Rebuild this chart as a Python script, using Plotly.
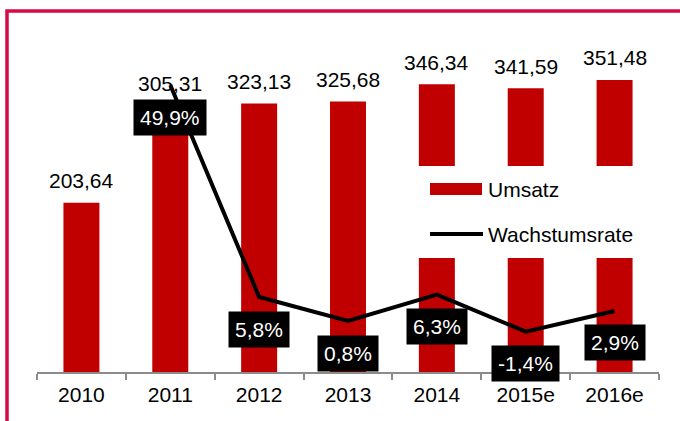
import plotly.graph_objects as go

years = ["2010", "2011", "2012", "2013", "2014", "2015e", "2016e"]
umsatz = [203.64, 305.31, 323.13, 325.68, 346.34, 341.59, 351.48]
umsatz_labels = ["203,64", "305,31", "323,13", "325,68", "346,34", "341,59", "351,48"]
growth_years = ["2011", "2012", "2013", "2014", "2015e", "2016e"]
growth = [49.9, 5.8, 0.8, 6.3, -1.4, 2.9]
growth_labels = ["49,9%", "5,8%", "0,8%", "6,3%", "-1,4%", "2,9%"]

RED = "#C00000"
FRAME = "#D50A47"
FONT = "Arial, Liberation Sans, sans-serif"

W, H = 680, 421
ML, MR, MT, MB = 37, 21, 23, 49
PW = W - ML - MR
PH = H - MT - MB

def px_x(px):
    return (px - ML) / PW

def px_y(py):
    return (H - MB - py) / PH

xb = [years.index(y) for y in years]
xg = [years.index(y) for y in growth_years]

fig = go.Figure()
fig.add_trace(go.Bar(x=xb, y=umsatz, marker=dict(color=RED, line=dict(width=0)),
                     name="Umsatz", showlegend=False, yaxis="y", hoverinfo="skip"))
fig.add_trace(go.Scatter(x=xg, y=growth, mode="lines",
                         line=dict(color="black", width=4), name="Wachstumsrate",
                         showlegend=False, yaxis="y2", hoverinfo="skip"))

annotations = []
for yr, xv, v, lab in zip(years, xb, umsatz, umsatz_labels):
    shift = 35 if yr == "2011" else 22
    annotations.append(dict(x=xv, y=v, xref="x", yref="y", text=lab, showarrow=False,
                            yanchor="middle", yshift=shift,
                            font=dict(family=FONT, size=21, color="black")))
for xv, v, lab in zip(xg, growth, growth_labels):
    annotations.append(dict(x=xv, y=v, xref="x", yref="y2", text=lab, showarrow=False,
                            yanchor="middle", yshift=-32, bgcolor="black", borderpad=6,
                            font=dict(family=FONT, size=21, color="white")))

# custom legend
annotations.append(dict(x=px_x(486), y=px_y(189), xref="paper", yref="paper", text="Umsatz",
                        showarrow=False, xanchor="left", yanchor="middle",
                        font=dict(family=FONT, size=21, color="black")))
annotations.append(dict(x=px_x(486), y=px_y(234), xref="paper", yref="paper", text="Wachstumsrate",
                        showarrow=False, xanchor="left", yanchor="middle",
                        font=dict(family=FONT, size=21, color="black")))

shapes = [
    dict(type="rect", xref="paper", yref="paper", x0=px_x(372), x1=px_x(656),
         y0=px_y(258), y1=px_y(166), fillcolor="white", line=dict(width=0), layer="above"),
    dict(type="rect", xref="paper", yref="paper", x0=px_x(430), x1=px_x(482),
         y0=px_y(195), y1=px_y(183), fillcolor=RED, line=dict(width=0), layer="above"),
    dict(type="line", xref="paper", yref="paper", x0=px_x(430), x1=px_x(483),
         y0=px_y(234), y1=px_y(234), line=dict(color="black", width=4), layer="above"),
    dict(type="rect", xref="paper", yref="paper", x0=px_x(7), x1=px_x(700),
         y0=px_y(440), y1=px_y(11), fillcolor="rgba(0,0,0,0)",
         line=dict(color=FRAME, width=3.5), layer="above"),
]

fig.update_layout(
    width=W, height=H,
    margin=dict(l=ML, r=MR, t=MT, b=MB, pad=0),
    paper_bgcolor="white", plot_bgcolor="white",
    bargap=0.595,
    showlegend=False,
    hovermode=False,
    font=dict(family=FONT, size=21, color="black"),
    xaxis=dict(range=[-0.5, len(years) - 0.5], showline=True, linecolor="#8C8C8C", linewidth=2,
               tickmode="array", tickvals=xb, ticktext=years, ticks="", tickangle=0,
               ticklabelstandoff=3,
               minor=dict(tick0=-0.5, dtick=1, ticks="outside", ticklen=6, tickwidth=2,
                          tickcolor="#8C8C8C", showgrid=False),
               showgrid=False, zeroline=False,
               tickfont=dict(family=FONT, size=21, color="black")),
    yaxis=dict(range=[0, 420], visible=False, showgrid=False, zeroline=False),
    yaxis2=dict(range=[-9.8, 62.8], overlaying="y", visible=False, showgrid=False,
                zeroline=False),
    annotations=annotations,
    shapes=shapes,
)

fig.write_html("out.html", config={"displayModeBar": False},
               post_script="document.body.style.margin='0';")
